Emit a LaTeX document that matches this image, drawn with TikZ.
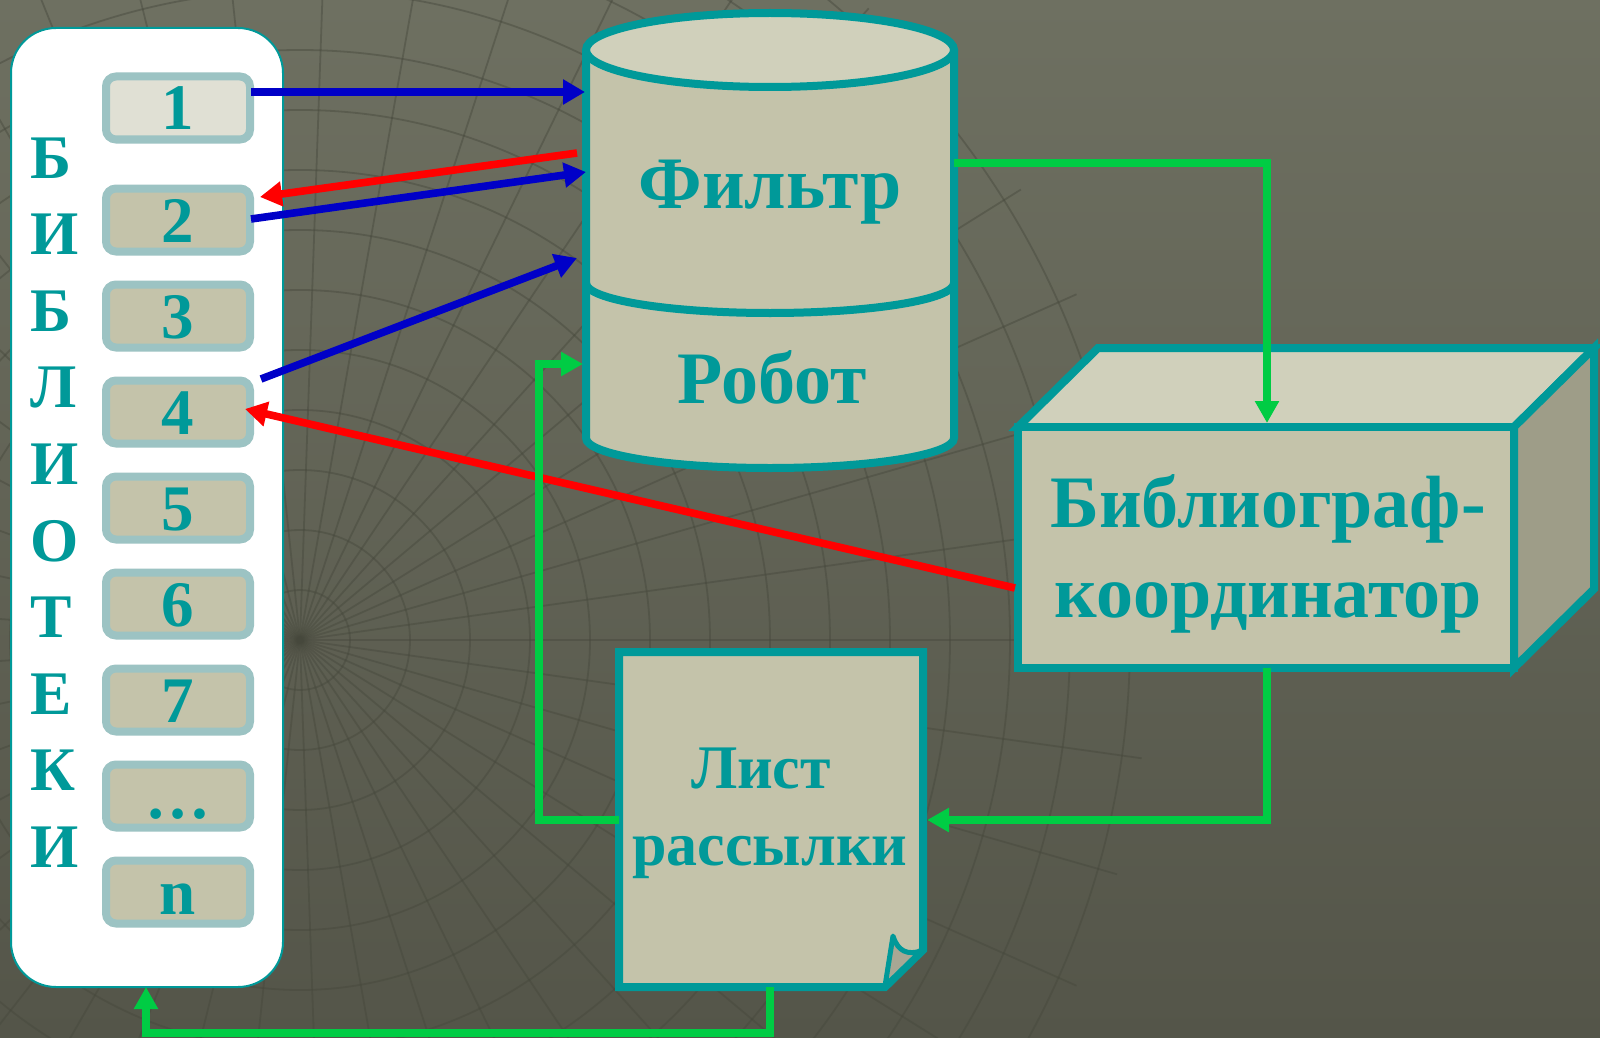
\documentclass[tikz,border=0pt]{standalone}
\usepackage{fontspec}
\setmainfont{Liberation Serif}
\usetikzlibrary{arrows.meta,calc}
\definecolor{teal0}{RGB}{0,153,153}
\definecolor{bodyc}{RGB}{196,195,170}
\definecolor{topc}{RGB}{208,208,187}
\definecolor{sidec}{RGB}{158,157,136}
\definecolor{itemb}{RGB}{156,195,195}
\definecolor{itemlight}{RGB}{224,224,212}
\definecolor{blueA}{RGB}{0,0,200}
\definecolor{redA}{RGB}{255,0,0}
\definecolor{greenA}{RGB}{0,204,68}
\definecolor{bgtop}{RGB}{110,112,97}
\definecolor{bgbot}{RGB}{84,85,73}
\definecolor{gridc}{RGB}{70,72,60}
\definecolor{flapc}{RGB}{168,167,148}
\begin{document}
\begin{tikzpicture}[x=0.5pt,y=-0.5pt,
  itembox/.style={draw=itemb, line width=4pt, fill=bodyc, rounded corners=5pt,
    minimum width=72pt, minimum height=31.5pt, inner sep=0pt, text=teal0,
    font=\bfseries\fontsize{32.5}{38}\selectfont, text height=22pt, text depth=0pt},
  vletter/.style={anchor=base west, inner sep=0pt, text=teal0, font=\bfseries\fontsize{31}{36}\selectfont},
  bigtext/.style={anchor=base, inner sep=0pt, text=teal0, font=\bfseries\fontsize{37}{44}\selectfont},
  midtext/.style={anchor=base, inner sep=0pt, text=teal0, font=\bfseries\fontsize{31}{38}\selectfont},
  shapeline/.style={draw=teal0, line width=4pt},
  bluearrow/.style={draw=blueA, line width=3.8pt, -{Triangle[length=11pt,width=12pt]}},
  redarrow/.style={draw=redA, line width=3.8pt, -{Triangle[length=11pt,width=12pt]}},
  greenarrow/.style={draw=greenA, line width=3.8pt, line join=miter, -{Triangle[length=11pt,width=11.5pt]}},
  gridline/.style={draw=gridc, line width=0.9pt, opacity=0.45}
]
\useasboundingbox (0,0) rectangle (1600,1038);
\shade[top color=bgtop, bottom color=bgbot] (0,0) rectangle (1600,1038);
% background mesh
\begin{scope}
\clip (0,0) rectangle (1600,1038);
\foreach \a in {0,8,...,352} \draw[gridline] (300,640) -- ++(\a:850);
\foreach \r in {50,110,...,830} \draw[gridline] (300,640) circle[radius=\r];
\end{scope}

% library panel
\node[draw=teal0, line width=1pt, fill=white, rounded corners=22.5pt,
  minimum width=136pt, minimum height=479.5pt, inner sep=0pt] (lib) at (147,507.5) {};
\node[itembox, fill=itemlight] (b1) at (178,108) {1};
\node[itembox] (b2) at (178,220) {2};
\node[itembox] (b3) at (178,316) {3};
\node[itembox] (b4) at (178,412) {4};
\node[itembox] (b5) at (178,508) {5};
\node[itembox] (b6) at (178,604) {6};
\node[itembox] (b7) at (178,700) {7};
\node[itembox] (b8) at (178,796) {\ldots};
\node[itembox] (bn) at (178,892) {n};
\foreach \l [count=\i from 0] in {Б,И,Б,Л,И,О,Т,Е,К,И}
  \node[vletter] (v\i) at (30,{178+76.6*\i}) {\l};

% cylinder
\fill[bodyc] (586,50) -- (586,438) arc[start angle=180, end angle=360, x radius=92pt, y radius=15pt] -- (954,50) -- cycle;
\draw[shapeline] (586,50) -- (586,438) arc[start angle=180, end angle=360, x radius=92pt, y radius=15pt] -- (954,50);
\draw[shapeline] (586,283) arc[start angle=180, end angle=360, x radius=92pt, y radius=15pt];
\draw[shapeline, fill=topc] (770,50) ellipse[x radius=92pt, y radius=18.5pt];
\node[bigtext] (filt) at (770,208) {Фильтр};
\node[bigtext] (rob) at (772,403) {Робот};

% 3D box
\draw[shapeline, line join=miter, fill=topc] (1018,427) -- (1098,348) -- (1594,348) -- (1514,427) -- cycle;
\draw[shapeline, line join=miter, fill=sidec] (1514,427) -- (1594,348) -- (1594,589) -- (1514,668) -- cycle;
\draw[shapeline, line join=miter, fill=bodyc] (1018,427) rectangle (1514,668);
\node[bigtext] (bib1) at (1268,527) {Библиограф-};
\node[bigtext] (bib2) at (1268,617) {координатор};

% document
\draw[shapeline, line join=miter, fill=bodyc] (619,652) -- (923,652) -- (923,950) -- (885,987) -- (619,987) -- cycle;
\draw[draw=teal0, line width=2.5pt, fill=flapc, line join=round] (885,986) -- (893,936) .. controls (898,952) and (908,955) .. (921,951) -- cycle;
\node[midtext] (lst1) at (761,788) {Лист};
\node[midtext] (lst2) at (770,865) {рассылки};

% connector end points
\coordinate (c1) at (585,92);
\coordinate (c2out) at (577,153);
\coordinate (c2in) at (586,172);
\coordinate (c4in) at (577,258);
\coordinate (cyR) at (954,163);
\coordinate (cyRob) at (583,364);
\coordinate (boxTop) at (1267,423);
\coordinate (boxBot) at (1267,668);
\coordinate (boxL) at (1015,588);
\coordinate (docR) at (927,820);
\coordinate (docL) at (619,820);
\coordinate (docB) at (770,987);
\coordinate (libB) at (146,987);

% arrows
\draw[bluearrow] ($(b1.east)+(-3,-16)$) -- (c1);
\draw[redarrow] (c2out) -- ($(b2.east)+(6,-23)$);
\draw[bluearrow] ($(b2.east)+(-3,-1)$) -- (c2in);
\draw[bluearrow] ($(b4.east)+(7,-33)$) -- (c4in);
\draw[redarrow] (boxL) -- ($(b4.east)+(-9,-3)$);
\draw[greenarrow] (cyR) -| (boxTop);
\draw[greenarrow] (boxBot) |- (docR);
\draw[greenarrow] (docL) -- (539,820) |- (cyRob);
\draw[greenarrow] (docB) -- (770,1033) -| (libB);
\end{tikzpicture}
\end{document}
